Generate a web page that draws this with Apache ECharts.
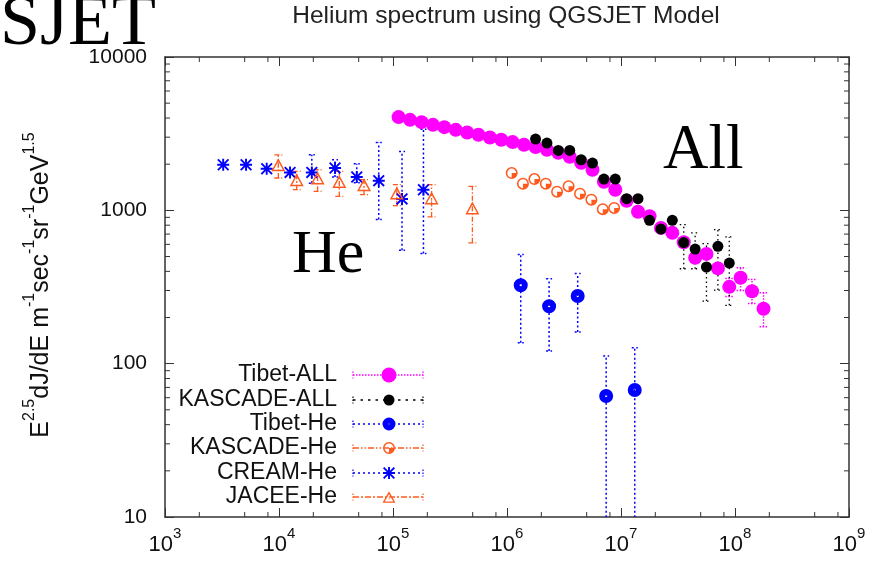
<!DOCTYPE html>
<html>
<head>
<meta charset="utf-8">
<script src="https://cdn.jsdelivr.net/npm/echarts@6/dist/echarts.min.js"></script>
<style>
  html, body { margin: 0; padding: 0; background: #fff; }
  #chart { width: 879px; height: 563px; }
</style>
</head>
<body>
<div id="chart"></div>
<script>
// ---- Data: energy (GeV) and E^2.5 dJ/dE flux ----
const tibetAllE = [1.12e5, 1.41e5, 1.78e5, 2.24e5, 2.82e5, 3.55e5, 4.47e5, 5.62e5, 7.08e5, 8.91e5,
  1.12e6, 1.41e6, 1.78e6, 2.24e6, 2.82e6, 3.55e6, 4.47e6, 5.62e6, 7.08e6, 8.91e6,
  1.12e7, 1.41e7, 1.78e7, 2.24e7, 2.82e7, 3.55e7, 4.47e7, 5.62e7, 7.08e7, 8.91e7,
  1.12e8, 1.41e8, 1.78e8];
const tibetAllFlux = [4055, 3890, 3760, 3610, 3488, 3350, 3218, 3108, 2985, 2884,
  2786, 2676, 2585, 2483, 2374, 2236, 2044, 1840, 1537, 1363,
  1156, 980, 914, 768, 713, 619, 490, 520, 418, 317,
  363, 297, 228];
const tibetAllHi = [null, null, null, null, null, null, null, null, null, null,
  null, null, null, null, null, null, null, null, null, null,
  null, null, null, null, null, null, null, null, null, 359,
  422, 354, 290];
const tibetAllLo = [null, null, null, null, null, null, null, null, null, null,
  null, null, null, null, null, null, null, null, null, null,
  null, null, null, null, null, null, null, null, null, 274,
  300, 247, 174];

const kascadeAllE = [1.78e6, 2.24e6, 2.82e6, 3.55e6, 4.47e6, 5.62e6, 7.08e6, 8.91e6,
  1.12e7, 1.41e7, 1.78e7, 2.24e7, 2.82e7, 3.55e7, 4.47e7, 5.62e7, 7.08e7, 8.91e7];
const kascadeAllFlux = [2914, 2745, 2458, 2458, 2137, 2034, 1600, 1600,
  1192, 1192, 861, 755, 861, 616, 559, 427, 583, 453];
const kascadeAllHi = [null, null, null, null, null, null, null, null,
  null, null, null, null, null, 807, 713, 607, 749, 671];
const kascadeAllLo = [null, null, null, null, null, null, null, null,
  null, null, null, null, null, 416, 416, 256, 302, 240];

const tibetHeE = [1.32e6, 2.34e6, 4.17e6, 7.41e6, 1.32e7];
const tibetHeFlux = [325, 237, 276, 61.6, 67.4];
const tibetHeHi = [515, 358, 388, 112, 127];
const tibetHeLo = [137, 121, 161, 1, 1];

const kascadeHeE = [1.10e6, 1.38e6, 1.74e6, 2.19e6, 2.75e6, 3.47e6, 4.37e6, 5.50e6, 6.92e6, 8.71e6];
const kascadeHeFlux = [1751, 1492, 1600, 1492, 1323, 1437, 1284, 1174, 1018, 1036];

const creamHeE = [3.24e3, 5.14e3, 7.80e3, 1.25e4, 1.94e4, 3.10e4, 4.81e4, 7.50e4, 1.20e5, 1.85e5];
const creamHeFlux = [1983, 1983, 1867, 1767, 1767, 1887, 1649, 1561, 1187, 1363];
const creamHeHi = [null, null, null, null, 2303, 2137, 2013, 2770, 2420, 3385];
const creamHeLo = [null, null, null, null, 1500, 1650, 1514, 870, 549, 523];

const jaceeHeE = [9.86e3, 1.43e4, 2.18e4, 3.38e4, 5.57e4, 1.08e5, 2.18e5, 4.97e5];
const jaceeHeFlux = [1983, 1584, 1625, 1544, 1470, 1298, 1204, 1036];
const jaceeHeHi = [2303, 1793, 1840, 1793, 1584, 1470, 1470, 1433];
const jaceeHeLo = [1625, 1363, 1330, 1233, 1265, 1073, 906, 614];

const xMinorMultipliers = [2, 5, 8];
const yMinorMultipliers = [2, 3, 4, 5, 6, 7, 8, 9];

// ---- Styling ----
const MAGENTA = '#ff00ff', BLACK = '#000000', BLUE = '#0000ff', ORANGE = '#ff5a1e';
const FRAME = '#333333';
const SANS = '"Liberation Sans", Arial, sans-serif';
const SERIF = '"Liberation Serif", "Times New Roman", serif';

// Marker shapes (SVG path data, 20x20 or 10x10 boxes)
const dotCirclePath = 'M0,10 A10,10 0 1,1 20,10 A10,10 0 1,1 0,10 Z M8.4,10 A1.6,1.6 0 1,0 11.6,10 A1.6,1.6 0 1,0 8.4,10 Z';
const pieCirclePath = 'M0,10 A10,10 0 1,1 20,10 A10,10 0 1,1 0,10 Z M2.6,10 A7.4,7.4 0 1,0 17.4,10 A7.4,7.4 0 1,0 2.6,10 Z M10,10 L17.4,10 A7.4,7.4 0 0,1 10,17.4 Z';
const asteriskPath = 'M4.2,0 L5.8,0 L5.8,10 L4.2,10 Z M0,4.2 L10,4.2 L10,5.8 L0,5.8 Z M0,1.1 L1.1,0 L10,8.9 L8.9,10 Z M8.9,0 L10,1.1 L1.1,10 L0,8.9 Z';
const dotTrianglePath = 'M10,0 L20,18 L0,18 Z M10,4.6 L3.4,15.9 L16.6,15.9 Z M9.2,11.2 L10.8,11.2 L10.8,12.8 L9.2,12.8 Z';
const circlePath = 'M0,10 A10,10 0 1,1 20,10 A10,10 0 1,1 0,10 Z';

function pairs(xs, ys) { return xs.map((x, i) => [x, ys[i]]); }
function bars(xs, lo, hi) {
  const out = [];
  xs.forEach((x, i) => { if (hi[i] != null && lo[i] != null) out.push([x, lo[i], hi[i]]); });
  return out;
}

function errorBarSeries(data, color, dash, capHalf, width) {
  return {
    type: 'custom', silent: true, clip: true, z: 2,
    data: data,
    encode: { x: 0, y: [1, 2] },
    renderItem: function (params, api) {
      const x = api.value(0);
      const a = api.coord([x, api.value(1)]);
      const b = api.coord([x, api.value(2)]);
      const st = { stroke: color, lineWidth: width, lineDash: dash, fill: null };
      return {
        type: 'group', children: [
          { type: 'line', shape: { x1: a[0], y1: a[1], x2: b[0], y2: b[1] }, style: st },
          { type: 'line', shape: { x1: a[0] - capHalf, y1: a[1], x2: a[0] + capHalf, y2: a[1] }, style: st },
          { type: 'line', shape: { x1: b[0] - capHalf, y1: b[1], x2: b[0] + capHalf, y2: b[1] }, style: st }
        ]
      };
    }
  };
}

// Minor ticks at the chosen multipliers of each decade, drawn inward on all four sides
const xMinorVals = [], yMinorVals = [];
for (let e = 3; e < 9; e++) xMinorMultipliers.forEach(m => xMinorVals.push(m * Math.pow(10, e)));
for (let e = 1; e < 4; e++) yMinorMultipliers.forEach(m => yMinorVals.push(m * Math.pow(10, e)));

const minorTickSeries = {
  type: 'custom', silent: true, clip: false, z: 6,
  data: xMinorVals.map(v => [v, 10, 0]).concat(yMinorVals.map(v => [1e3, v, 1])),
  renderItem: function (params, api) {
    const st = { stroke: FRAME, lineWidth: 1 };
    const len = 5;
    if (api.value(2) === 0) {
      const v = api.value(0);
      const bot = api.coord([v, 10]), top = api.coord([v, 1e4]);
      return { type: 'group', children: [
        { type: 'line', shape: { x1: bot[0], y1: bot[1], x2: bot[0], y2: bot[1] - len }, style: st },
        { type: 'line', shape: { x1: top[0], y1: top[1], x2: top[0], y2: top[1] + len }, style: st }
      ] };
    }
    const v = api.value(1);
    const l = api.coord([1e3, v]), r = api.coord([1e9, v]);
    return { type: 'group', children: [
      { type: 'line', shape: { x1: l[0], y1: l[1], x2: l[0] + len, y2: l[1] }, style: st },
      { type: 'line', shape: { x1: r[0], y1: r[1], x2: r[0] - len, y2: r[1] }, style: st }
    ] };
  }
};

function powerLabel(v) {
  const e = Math.round(Math.log10(v));
  return '{b|10}{s|' + e + '}';
}
function plainLabel(v) { return String(Math.round(v)); }

const axisLineStyle = { show: true, lineStyle: { color: FRAME, width: 1.5 } };
const majorTick = { show: true, inside: true, length: 9, lineStyle: { color: FRAME, width: 1 } };

// ---- Key: names, line styles and marker shapes ----
const legendNames = ['Tibet-ALL', 'KASCADE-ALL', 'Tibet-He', 'KASCADE-He', 'CREAM-He', 'JACEE-He'];
const legendColors = [MAGENTA, BLACK, BLUE, ORANGE, BLUE, ORANGE];
const legendDashes = [[1.5, 1.5], [2.5, 5], [2, 3], [6, 2, 1.5, 2, 1.5, 2], [2, 3], [6, 2, 2, 2]];
const legendShapes = [circlePath, circlePath, dotCirclePath, pieCirclePath, asteriskPath, dotTrianglePath];
const legendSizes = [[15, 15], [11, 11], [13, 13], [12, 12], [12, 12], [13, 12]];
const legendRowY = [375, 400, 424, 448, 473, 497];

const legendGraphics = legendNames.map((name, i) => ({
  type: 'text', x: 337, y: legendRowY[i],
  style: { text: name, font: '23px ' + SANS, fill: '#111', align: 'right', verticalAlign: 'middle' }
}));

// Key samples are drawn by a custom series in screen space
const legendSampleSeries = {
  type: 'custom', coordinateSystem: 'none', silent: true, z: 10,
  data: legendNames.map((n, i) => [i]),
  renderItem: function (params, api) {
    const i = params.dataIndex;
    const y = legendRowY[i], x0 = 353, x1 = 423, xm = 389;
    const c = legendColors[i];
    const sz = legendSizes[i];
    const capSt = { stroke: c, lineWidth: 1.2, lineDash: [1.5, 1.5] };
    return { type: 'group', children: [
      { type: 'line', shape: { x1: x0, y1: y, x2: x1, y2: y }, style: { stroke: c, lineWidth: 1.3, lineDash: legendDashes[i] } },
      { type: 'line', shape: { x1: x0, y1: y - 3.5, x2: x0, y2: y + 3.5 }, style: capSt },
      { type: 'line', shape: { x1: x1, y1: y - 3.5, x2: x1, y2: y + 3.5 }, style: capSt },
      { type: 'path', shape: { pathData: legendShapes[i], x: xm - sz[0] / 2, y: y - sz[1] / 2, width: sz[0], height: sz[1] }, style: { fill: c } }
    ] };
  }
};

const chart = echarts.init(document.getElementById('chart'), null, { renderer: 'canvas' });
chart.setOption({
  animation: false,
  backgroundColor: '#ffffff',
  grid: { left: 165, right: 30, top: 57, bottom: 46 },
  xAxis: [{
    type: 'log', logBase: 10, min: 1e3, max: 1e9, splitNumber: 6, position: 'bottom',
    axisLine: axisLineStyle, axisTick: majorTick, splitLine: { show: false },
    axisLabel: {
      margin: 9, formatter: powerLabel, color: '#111',
      rich: {
        b: { fontFamily: SANS, fontSize: 22, color: '#111', verticalAlign: 'bottom', lineHeight: 30 },
        s: { fontFamily: SANS, fontSize: 15, color: '#111', verticalAlign: 'top', lineHeight: 30 }
      }
    }
  }, {
    type: 'log', logBase: 10, min: 1e3, max: 1e9, splitNumber: 6, position: 'top',
    axisLine: axisLineStyle, axisTick: majorTick, axisLabel: { show: false }, splitLine: { show: false }
  }],
  yAxis: [{
    type: 'log', logBase: 10, min: 10, max: 1e4, splitNumber: 3, position: 'left',
    axisLine: axisLineStyle, axisTick: majorTick, splitLine: { show: false },
    axisLabel: { margin: 18, fontFamily: SANS, fontSize: 21, color: '#111', formatter: plainLabel }
  }, {
    type: 'log', logBase: 10, min: 10, max: 1e4, splitNumber: 3, position: 'right',
    axisLine: axisLineStyle, axisTick: majorTick, axisLabel: { show: false }, splitLine: { show: false }
  }],
  graphic: [
    { type: 'text', x: 506, y: 16, style: { text: 'Helium spectrum using QGSJET Model', font: '24.5px ' + SANS, fill: '#222', align: 'center', verticalAlign: 'middle' } },
    { type: 'text', x: 156, y: 25, style: { text: 'QGSJET', font: '72px ' + SERIF, fill: '#000', align: 'right', verticalAlign: 'middle' } },
    { type: 'text', x: 292, y: 256, style: { text: 'He', font: '62px ' + SERIF, fill: '#000', align: 'left', verticalAlign: 'middle' } },
    { type: 'text', x: 663, y: 151, style: { text: 'All', font: '63px ' + SERIF, fill: '#000', align: 'left', verticalAlign: 'middle' } },
    {
      type: 'text', x: 38, y: 285, rotation: Math.PI / 2,
      style: {
        text: '{m|E}{s|2.5}{m|dJ/dE m}{s|-1}{m|sec}{s|-1}{m|sr}{s|-1}{m|GeV}{s|1.5}',
        align: 'center', verticalAlign: 'middle',
        rich: {
          m: { fontFamily: SANS, fontSize: 25, fill: '#111', verticalAlign: 'bottom', lineHeight: 32 },
          s: { fontFamily: SANS, fontSize: 16, fill: '#111', verticalAlign: 'top', lineHeight: 32 }
        }
      }
    }
  ].concat(legendGraphics),
  series: [
    minorTickSeries,
    legendSampleSeries,
    errorBarSeries(bars(tibetAllE, tibetAllLo, tibetAllHi), MAGENTA, [1.5, 1.5], 4, 1.4),
    { name: 'Tibet-ALL', type: 'scatter', z: 3, symbol: 'circle', symbolSize: 14, itemStyle: { color: MAGENTA, opacity: 1 }, data: pairs(tibetAllE, tibetAllFlux) },
    errorBarSeries(bars(kascadeAllE, kascadeAllLo, kascadeAllHi), BLACK, [1.5, 3], 4, 1.3),
    { name: 'KASCADE-ALL', type: 'scatter', z: 4, symbol: 'circle', symbolSize: 11, itemStyle: { color: BLACK, opacity: 1 }, data: pairs(kascadeAllE, kascadeAllFlux) },
    errorBarSeries(bars(tibetHeE, tibetHeLo, tibetHeHi), BLUE, [2, 2.5], 3, 1.5),
    { name: 'Tibet-He', type: 'scatter', z: 4, symbol: 'path://' + dotCirclePath, symbolSize: 14, itemStyle: { color: BLUE, opacity: 1 }, data: pairs(tibetHeE, tibetHeFlux) },
    { name: 'KASCADE-He', type: 'scatter', z: 4, symbol: 'path://' + pieCirclePath, symbolSize: 12, itemStyle: { color: ORANGE, opacity: 1 }, data: pairs(kascadeHeE, kascadeHeFlux) },
    errorBarSeries(bars(creamHeE, creamHeLo, creamHeHi), BLUE, [2, 2.5], 3, 1.5),
    { name: 'CREAM-He', type: 'scatter', z: 4, symbol: 'path://' + asteriskPath, symbolSize: 12, itemStyle: { color: BLUE, opacity: 1 }, data: pairs(creamHeE, creamHeFlux) },
    errorBarSeries(bars(jaceeHeE, jaceeHeLo, jaceeHeHi), ORANGE, [5, 2, 1.5, 2], 4, 1.3),
    { name: 'JACEE-He', type: 'scatter', z: 4, symbol: 'path://' + dotTrianglePath, symbolSize: [14, 13], itemStyle: { color: ORANGE, opacity: 1 }, data: pairs(jaceeHeE, jaceeHeFlux) }
  ]
});
</script>
</body>
</html>
